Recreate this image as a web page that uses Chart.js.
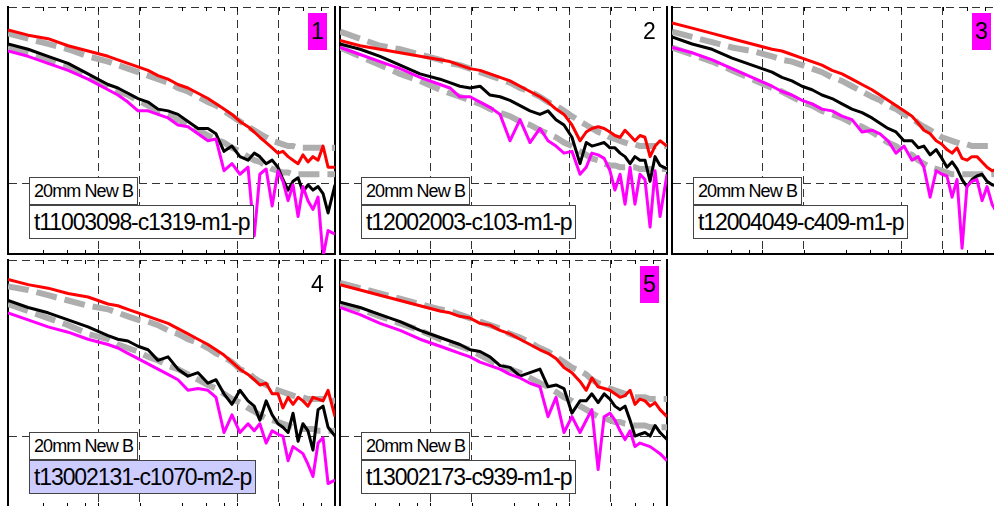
<!DOCTYPE html>
<html>
<head>
<meta charset="utf-8">
<script src="https://cdn.jsdelivr.net/npm/chart.js@4/dist/chart.umd.min.js"></script>
<style>
  html, body { margin: 0; padding: 0; background: #fff; overflow: hidden; width: 994px; height: 506px; }
  canvas { position: absolute; }
  .lbl { position: absolute; box-sizing: border-box; border: 1px solid #444; background: #fff;
         font-family: "Liberation Sans", Arial, sans-serif; color: #000; white-space: nowrap; padding: 0 4px; }
  .src { height: 28px; line-height: 26px; font-size: 18px; letter-spacing: -0.9px; }
  .tag { height: 34px; line-height: 32px; font-size: 23px; letter-spacing: -1.1px; }
  .num { position: absolute; width: 19px; height: 37px; line-height: 37px; text-align: center;
         font-family: "Liberation Sans", Arial, sans-serif; font-size: 23px; color: #000; }
</style>
</head>
<body>
<script>
// frequency grid shared by all panels (log x axis)
const freq = [0.225,0.314,0.437,0.609,0.847,1.18,1.39,1.64,1.94,2.29,2.70,3.19,3.76,4.44,5.24,6.18,7.06,8.06,9.20,10.5,
              12.0,13.3,14.6,16.2,17.9,19.7,21.4,23.3,25.3,27.5,29.8,32.4,35.2,38.3,41.6,45.2,50.7];
const gridX = [1, 2, 10, 20];
const tickX = [0.4, 0.6, 0.8, 1, 2, 4, 6, 8, 10, 20, 30, 40];
const gridY = [0, 1];

const panelIds = ['t11003098-c1319-m1-p', 't12002003-c103-m1-p', 't12004049-c409-m1-p', 't13002131-c1070-m2-p', 't13002173-c939-m1-p'];
const badgeNums = ['1', '2', '3', '4', '5'];
const badgeFill = ['#ff00ff', 'transparent', '#ff00ff', 'transparent', '#ff00ff'];
const tagFill = ['#fff', '#fff', '#fff', '#ccccff', '#fff'];
const sourceLabel = '20mm New B';

// panel 1
const red1 = [0.87,0.84,0.82,0.78,0.75,0.72,0.70,0.68,0.66,0.64,0.61,0.59,0.56,0.54,0.51,0.48,0.45,0.42,0.39,0.35,0.32,0.29,0.26,0.23,0.20,0.17,0.18,0.15,0.13,0.11,0.16,0.12,0.15,0.13,0.21,0.09,0.09];
const black1 = [0.79,0.76,0.72,0.68,0.62,0.56,0.54,0.51,0.48,0.46,0.42,0.41,0.39,0.35,0.31,0.31,0.28,0.18,0.21,0.15,0.13,0.17,0.15,0.11,0.13,0.09,0.02,-0.04,0.01,0.03,-0.05,-0.01,-0.04,-0.02,-0.06,-0.17,-0.01];
const mag1 = [0.75,0.72,0.68,0.64,0.59,0.53,0.50,0.46,0.41,0.41,0.39,0.37,0.33,0.32,0.28,0.24,0.25,0.07,0.11,0.05,0.09,-0.30,0.05,0.08,-0.13,0.07,0.01,-0.10,-0.01,-0.19,-0.02,-0.10,-0.15,-0.08,-0.42,-0.27,-0.29];
const up1 = [0.85,0.82,0.79,0.76,0.72,0.69,0.67,0.65,0.63,0.61,0.59,0.57,0.54,0.52,0.49,0.46,0.44,0.41,0.38,0.35,0.32,0.30,0.28,0.26,0.24,0.23,0.22,0.21,0.21,0.20,0.20,0.20,0.20,0.20,0.20,0.20,0.20];
const low1 = [0.77,0.74,0.70,0.66,0.60,0.55,0.52,0.50,0.47,0.44,0.41,0.39,0.36,0.33,0.30,0.27,0.25,0.23,0.20,0.18,0.15,0.13,0.12,0.10,0.08,0.07,0.06,0.06,0.05,0.05,0.05,0.05,0.05,0.05,0.05,0.05,0.05];

// panel 2
const red2 = [0.81,0.78,0.76,0.74,0.72,0.70,0.69,0.67,0.65,0.64,0.62,0.60,0.58,0.55,0.52,0.49,0.46,0.42,0.39,0.33,0.24,0.29,0.31,0.32,0.31,0.29,0.27,0.26,0.30,0.27,0.24,0.27,0.26,0.15,0.21,0.24,0.21];
const black2 = [0.79,0.76,0.72,0.67,0.62,0.59,0.57,0.55,0.54,0.55,0.50,0.49,0.47,0.44,0.41,0.39,0.41,0.36,0.33,0.26,0.11,0.23,0.21,0.22,0.23,0.20,0.20,0.17,0.15,0.11,0.15,0.13,0.13,0.01,0.15,0.10,0.08];
const mag2 = [0.77,0.73,0.69,0.65,0.60,0.56,0.54,0.49,0.49,0.46,0.43,0.39,0.24,0.36,0.23,0.31,0.24,0.21,0.17,0.18,0.05,0.09,0.17,0.16,0.14,0.07,-0.04,0.05,-0.12,0.09,-0.12,0.05,0.02,-0.25,0.07,-0.19,0.05];
const up2 = [0.86,0.82,0.78,0.76,0.73,0.70,0.68,0.67,0.65,0.63,0.61,0.59,0.57,0.54,0.52,0.49,0.46,0.44,0.41,0.38,0.35,0.33,0.31,0.29,0.28,0.26,0.25,0.24,0.23,0.22,0.22,0.21,0.21,0.21,0.21,0.21,0.21];
const low2 = [0.77,0.72,0.67,0.62,0.58,0.53,0.51,0.49,0.47,0.45,0.42,0.40,0.38,0.35,0.33,0.30,0.28,0.26,0.23,0.21,0.18,0.16,0.14,0.13,0.11,0.10,0.10,0.09,0.09,0.09,0.09,0.08,0.08,0.08,0.08,0.08,0.08];

// panel 3
const red3 = [0.91,0.88,0.85,0.82,0.79,0.76,0.75,0.73,0.71,0.69,0.67,0.64,0.62,0.59,0.56,0.53,0.50,0.47,0.44,0.41,0.38,0.34,0.30,0.28,0.24,0.22,0.19,0.17,0.20,0.14,0.13,0.15,0.15,0.12,0.09,0.07,0.08];
const black3 = [0.83,0.79,0.76,0.71,0.67,0.63,0.60,0.58,0.55,0.53,0.50,0.48,0.45,0.42,0.40,0.37,0.34,0.31,0.29,0.24,0.24,0.20,0.21,0.16,0.19,0.14,0.09,0.12,0.08,0.02,-0.02,0.02,0.04,0.05,0.01,-0.01,-0.02];
const mag3 = [0.77,0.74,0.70,0.65,0.60,0.55,0.52,0.50,0.47,0.45,0.42,0.41,0.38,0.36,0.29,0.30,0.28,0.24,0.17,0.21,0.13,0.15,0.09,-0.08,0.07,0.05,0.04,-0.08,0.02,-0.37,-0.02,0.01,0.02,-0.10,-0.02,-0.12,-0.19];
const up3 = [0.86,0.83,0.80,0.77,0.75,0.72,0.70,0.69,0.67,0.65,0.63,0.60,0.58,0.55,0.52,0.49,0.47,0.44,0.42,0.39,0.37,0.34,0.32,0.30,0.28,0.26,0.25,0.24,0.23,0.22,0.22,0.21,0.21,0.21,0.21,0.21,0.21];
const low3 = [0.77,0.73,0.69,0.64,0.59,0.54,0.52,0.49,0.46,0.44,0.41,0.39,0.37,0.34,0.32,0.29,0.26,0.23,0.21,0.18,0.16,0.13,0.11,0.09,0.08,0.07,0.06,0.05,0.05,0.05,0.05,0.05,0.05,0.05,0.05,0.05,0.05];

// panel 4
const red4 = [0.89,0.86,0.84,0.81,0.79,0.75,0.74,0.72,0.70,0.68,0.66,0.64,0.61,0.58,0.55,0.52,0.49,0.46,0.42,0.38,0.35,0.32,0.29,0.30,0.24,0.24,0.16,0.22,0.18,0.22,0.20,0.17,0.22,0.21,0.20,0.26,0.11];
const black4 = [0.77,0.73,0.70,0.66,0.62,0.57,0.55,0.54,0.51,0.49,0.43,0.45,0.38,0.34,0.36,0.30,0.32,0.24,0.18,0.26,0.20,0.17,0.09,0.20,0.12,0.07,0.05,0.02,0.13,-0.03,0.07,0.03,-0.08,0.15,0.17,0.05,0.00];
const mag4 = [0.70,0.66,0.62,0.59,0.55,0.52,0.50,0.47,0.44,0.41,0.38,0.35,0.32,0.26,0.27,0.26,0.22,0.02,0.12,0.02,0.07,0.03,0.07,-0.04,0.03,0.01,0.00,-0.14,-0.06,-0.08,-0.10,-0.16,-0.23,-0.04,-0.01,-0.27,-0.25];
const up4 = [0.85,0.83,0.80,0.77,0.74,0.72,0.70,0.68,0.66,0.65,0.63,0.60,0.58,0.55,0.53,0.50,0.47,0.45,0.42,0.38,0.36,0.33,0.31,0.29,0.27,0.26,0.25,0.24,0.23,0.22,0.22,0.21,0.21,0.21,0.21,0.20,0.20];
const low4 = [0.75,0.71,0.67,0.63,0.58,0.55,0.52,0.50,0.48,0.45,0.43,0.40,0.38,0.35,0.32,0.29,0.27,0.24,0.21,0.19,0.16,0.14,0.12,0.10,0.09,0.08,0.07,0.06,0.05,0.05,0.04,0.04,0.04,0.03,0.03,0.03,0.03];

// panel 5
const red5 = [0.86,0.83,0.80,0.77,0.74,0.71,0.70,0.68,0.67,0.64,0.63,0.60,0.58,0.55,0.52,0.49,0.47,0.44,0.39,0.36,0.31,0.26,0.33,0.28,0.27,0.26,0.24,0.22,0.23,0.26,0.18,0.21,0.20,0.17,0.19,0.15,0.11];
const black5 = [0.76,0.73,0.69,0.65,0.60,0.56,0.54,0.52,0.49,0.48,0.45,0.40,0.39,0.34,0.36,0.38,0.28,0.29,0.27,0.13,0.20,0.20,0.24,0.19,0.24,0.21,0.17,0.15,0.17,0.09,0.00,0.01,0.02,0.00,0.06,0.02,-0.02];
const mag5 = [0.73,0.69,0.64,0.60,0.55,0.51,0.49,0.47,0.45,0.42,0.40,0.38,0.35,0.33,0.30,0.28,0.11,0.22,0.02,0.11,0.02,0.09,0.15,-0.19,0.11,0.13,0.09,0.03,-0.02,0.03,-0.06,-0.04,-0.05,-0.06,-0.08,-0.10,-0.14];
const up5 = [0.87,0.84,0.81,0.78,0.75,0.72,0.71,0.69,0.67,0.65,0.63,0.61,0.58,0.56,0.53,0.50,0.48,0.45,0.42,0.39,0.37,0.35,0.32,0.30,0.29,0.27,0.26,0.25,0.24,0.23,0.22,0.22,0.22,0.21,0.21,0.21,0.21];
const low5 = [0.75,0.72,0.68,0.64,0.60,0.55,0.53,0.51,0.49,0.46,0.43,0.40,0.38,0.36,0.33,0.30,0.28,0.25,0.22,0.20,0.17,0.15,0.13,0.11,0.10,0.09,0.08,0.08,0.07,0.07,0.06,0.06,0.06,0.05,0.05,0.05,0.05];

const panels = [
  { left: 8,   top: 7,   red: red1, black: black1, mag: mag1, up: up1, low: low1 },
  { left: 340, top: 7,   red: red2, black: black2, mag: mag2, up: up2, low: low2 },
  { left: 672, top: 7,   red: red3, black: black3, mag: mag3, up: up3, low: low3 },
  { left: 8,   top: 260, red: red4, black: black4, mag: mag4, up: up4, low: low4 },
  { left: 340, top: 260, red: red5, black: black5, mag: mag5, up: up5, low: low5 }
];

const PW = 327, PH = 247, PAD = 4;
const X_MIN = 0.225, X_MAX = 50.7, Y_MIN = -0.403, Y_MAX = 1;

const pts = (ys) => ys.map((y, i) => ({ x: freq[i], y: y }));

// small inward tick marks on top and bottom edges
const tickMarks = {
  id: 'tickMarks',
  afterDraw(chart) {
    const ctx = chart.ctx, a = chart.chartArea, sx = chart.scales.x;
    ctx.save();
    ctx.strokeStyle = '#000';
    ctx.lineWidth = 1;
    tickX.forEach(v => {
      const px = Math.round(sx.getPixelForValue(v)) + 0.5;
      ctx.beginPath();
      ctx.moveTo(px, a.bottom); ctx.lineTo(px, a.bottom - 4);
      ctx.moveTo(px, a.top); ctx.lineTo(px, a.top + 4);
      ctx.stroke();
    });
    ctx.restore();
  }
};

const lineSet = (data, color, order) => ({
  data: pts(data), borderColor: color, borderWidth: 3, pointRadius: 0,
  tension: 0, borderJoinStyle: 'round', clip: 0, order: order
});
const modelSet = (data) => ({
  data: pts(data), borderColor: '#aeaeae', borderWidth: 6, borderDash: [21, 8],
  pointRadius: 0, tension: 0, clip: 0, order: 5
});

panels.forEach((p, k) => {
  const cv = document.createElement('canvas');
  cv.width = PW + 2 * PAD;
  cv.height = PH + 2 * PAD;
  cv.style.left = (p.left - PAD) + 'px';
  cv.style.top = (p.top - PAD) + 'px';
  document.body.appendChild(cv);

  new Chart(cv, {
    type: 'line',
    data: {
      datasets: [
        lineSet(p.red, '#ff0000', 1),
        lineSet(p.mag, '#ff00ff', 2),
        lineSet(p.black, '#000000', 3),
        modelSet(p.up),
        modelSet(p.low)
      ]
    },
    options: {
      responsive: false,
      animation: false,
      devicePixelRatio: 1,
      layout: { padding: PAD },
      plugins: { legend: { display: false }, tooltip: { enabled: false } },
      scales: {
        x: {
          type: 'logarithmic', min: X_MIN, max: X_MAX, bounds: 'data',
          afterBuildTicks: s => { s.ticks = gridX.map(v => ({ value: v })); },
          ticks: { display: false },
          grid: { color: '#333', lineWidth: 1, drawTicks: false },
          border: { display: true, color: '#000', width: 2, dash: [8, 5] }
        },
        y: {
          type: 'linear', min: Y_MIN, max: Y_MAX, bounds: 'data',
          afterBuildTicks: s => { s.ticks = gridY.map(v => ({ value: v })); },
          ticks: { display: false },
          grid: { color: '#333', lineWidth: 1, drawTicks: false },
          border: { display: true, color: '#000', width: 2, dash: [8, 5] }
        },
        yr: {
          type: 'linear', position: 'right', min: Y_MIN, max: Y_MAX,
          ticks: { display: false },
          grid: { display: false, drawTicks: false },
          border: { display: true, color: '#000', width: 2 }
        }
      }
    },
    plugins: [tickMarks]
  });

  const row1 = p.top < 100;
  const srcTop = row1 ? 177 : 432;

  const src = document.createElement('div');
  src.className = 'lbl src';
  src.style.left = (p.left + 21) + 'px';
  src.style.top = srcTop + 'px';
  src.textContent = sourceLabel;
  document.body.appendChild(src);

  const tag = document.createElement('div');
  tag.className = 'lbl tag';
  tag.style.left = (p.left + 21) + 'px';
  tag.style.top = (srcTop + 28) + 'px';
  tag.style.background = tagFill[k];
  tag.textContent = panelIds[k];
  document.body.appendChild(tag);

  const num = document.createElement('div');
  num.className = 'num';
  num.style.left = (p.left + 300) + 'px';
  num.style.top = (p.top + 6) + 'px';
  num.style.background = badgeFill[k];
  num.textContent = badgeNums[k];
  document.body.appendChild(num);
});
</script>
</body>
</html>
